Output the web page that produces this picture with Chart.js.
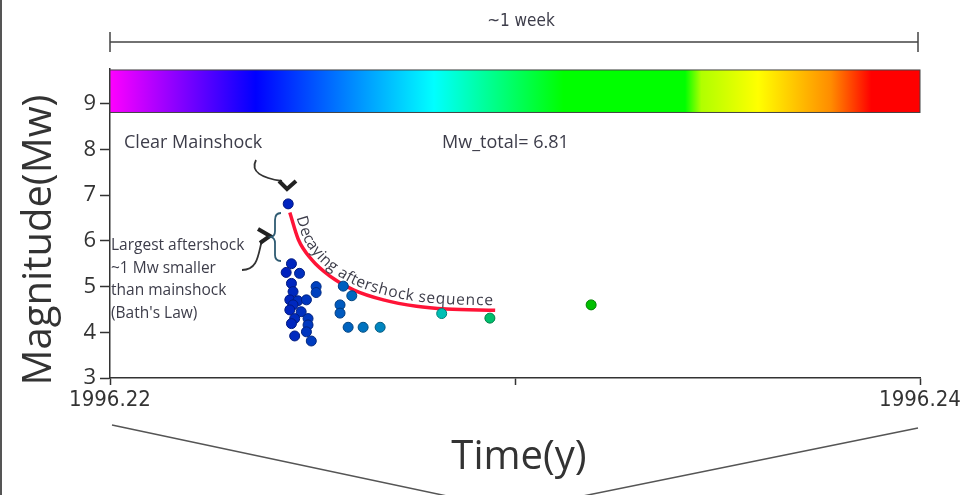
<!DOCTYPE html>
<html>
<head>
<meta charset="utf-8">
<script src="https://cdn.jsdelivr.net/npm/chart.js@4.4.0/dist/chart.umd.min.js"></script>
<style>
  html, body { margin: 0; padding: 0; background: #fff; }
  #wrap { width: 965px; height: 495px; position: relative; }
</style>
</head>
<body>
<div id="wrap"><canvas id="quakeChart" width="965" height="495"></canvas></div>
<script>
// Event times (decimal year) and magnitudes
const eventYears = [
    1996.22440,
    1996.22448, 1996.22435, 1996.22468, 1996.22448, 1996.22509, 1996.22452,
    1996.22509, 1996.22444, 1996.22464, 1996.22485, 1996.22452, 1996.22444,
    1996.22472, 1996.22489, 1996.22456, 1996.22448, 1996.22489, 1996.22485,
    1996.22456, 1996.22497,
    1996.22576, 1996.22597, 1996.22568, 1996.22568, 1996.22588, 1996.22625,
    1996.22667, 1996.22819, 1996.22938, 1996.23188
];
const eventMags = [
    6.81,
    5.50, 5.31, 5.29, 5.07, 5.00, 4.89,
    4.87, 4.71, 4.69, 4.71, 4.60, 4.49,
    4.45, 4.30, 4.30, 4.19, 4.16, 4.01,
    3.92, 3.81,
    5.01, 4.80, 4.60, 4.42, 4.11, 4.11,
    4.11, 4.41, 4.31, 4.60
];

// Hand-drawn decay curve
const decayYears = [1996.22444, 1996.22465, 1996.22498, 1996.22543, 1996.22601, 1996.22675, 1996.22757, 1996.22831, 1996.22951];
const decayMags = [6.62, 6.03, 5.59, 5.23, 4.93, 4.71, 4.57, 4.51, 4.48];

// Axes
const xTicks = [1996.22, 1996.23, 1996.24];
const xTickLabels = ['1996.22', '', '1996.24'];
const yTicks = [3, 4, 5, 6, 7, 8, 9];

// Time colour scale (fraction of the week -> colour)
const colorStops = [0, 0.09, 0.18, 0.40, 0.56, 0.71, 0.73, 0.80, 0.89, 0.94, 1];
const colorValues = ['#ff00ff', '#8000ff', '#0000ff', '#00ffff', '#00ff00', '#00ff00', '#b0ff00', '#ffff00', '#ff8c00', '#ff0000', '#ff0000'];

const X_MIN = 1996.22, X_MAX = 1996.24;
const Y_MIN = 3, Y_MAX = 9.77;

function hexToRgb(h) {
    return [parseInt(h.slice(1, 3), 16), parseInt(h.slice(3, 5), 16), parseInt(h.slice(5, 7), 16)];
}

function timeColor(year, shade) {
    const t = Math.min(1, Math.max(0, (year - X_MIN) / (X_MAX - X_MIN)));
    let i = 0;
    while (i < colorStops.length - 2 && t > colorStops[i + 1]) i++;
    const f = (t - colorStops[i]) / (colorStops[i + 1] - colorStops[i]);
    const a = hexToRgb(colorValues[i]), b = hexToRgb(colorValues[i + 1]);
    const c = a.map((v, k) => Math.round((v + (b[k] - v) * f) * shade));
    return `rgb(${c[0]},${c[1]},${c[2]})`;
}

const textColor = '#3d3d4a';

// Sample the drawn (bezier) decay line into a dense polyline
function curvePolyline(meta) {
    const els = meta.data;
    const out = [{ x: els[0].x, y: els[0].y }];
    for (let i = 0; i < els.length - 1; i++) {
        const a = els[i], b = els[i + 1];
        const c1x = a.cp2x ?? a.x, c1y = a.cp2y ?? a.y;
        const c2x = b.cp1x ?? b.x, c2y = b.cp1y ?? b.y;
        for (let s = 1; s <= 12; s++) {
            const t = s / 12, u = 1 - t;
            out.push({
                x: u * u * u * a.x + 3 * u * u * t * c1x + 3 * u * t * t * c2x + t * t * t * b.x,
                y: u * u * u * a.y + 3 * u * u * t * c1y + 3 * u * t * t * c2y + t * t * t * b.y
            });
        }
    }
    return out;
}

// Extra drawing: colour bar, bracket, annotations, arrows, titles
const decorPlugin = {
    id: 'decor',
    beforeDatasetsDraw(chart) {
        const ctx = chart.ctx;
        const area = chart.chartArea;
        const y = chart.scales.y;
        const top = y.getPixelForValue(9.74);
        const bottom = y.getPixelForValue(8.81);

        // colour bar
        const grad = ctx.createLinearGradient(area.left, 0, area.right, 0);
        colorStops.forEach((s, i) => grad.addColorStop(s, colorValues[i]));
        ctx.save();
        ctx.fillStyle = grad;
        ctx.fillRect(area.left, top, area.right - area.left, bottom - top);
        ctx.strokeStyle = '#444';
        ctx.lineWidth = 1;
        ctx.strokeRect(area.left, top, area.right - area.left, bottom - top);
        ctx.restore();
    },
    afterDraw(chart) {
        const ctx = chart.ctx;
        const area = chart.chartArea;
        ctx.save();

        // page frame on the left
        ctx.fillStyle = '#555';
        ctx.fillRect(0, 0, 2, chart.height);

        // "~1 week" span
        ctx.strokeStyle = '#444';
        ctx.lineWidth = 1.5;
        ctx.beginPath();
        ctx.moveTo(area.left, 42); ctx.lineTo(area.right - 2, 42);
        ctx.moveTo(area.left, 32); ctx.lineTo(area.left, 52);
        ctx.moveTo(area.right - 2, 32); ctx.lineTo(area.right - 2, 52);
        ctx.stroke();
        ctx.fillStyle = textColor;
        ctx.font = '17px "DejaVu Sans Condensed", sans-serif';
        ctx.textAlign = 'center';
        ctx.textBaseline = 'middle';
        ctx.fillText('~1 week', 521, 22);

        // annotations
        ctx.font = '18px "Open Sans", sans-serif';
        ctx.textAlign = 'left';
        ctx.fillText('Clear Mainshock', 124, 143);
        ctx.fillText('Mw_total= 6.81', 442, 143);

        ctx.font = '15.5px "Open Sans", sans-serif';
        ['Largest aftershock', '~1 Mw smaller', 'than mainshock', '(Bath\'s Law)'].forEach((line, i) => {
            ctx.fillText(line, 111, 246 + i * 22.5);
        });

        // mainshock arrow
        ctx.strokeStyle = '#333';
        ctx.lineWidth = 1.8;
        ctx.beginPath();
        ctx.moveTo(256, 160);
        ctx.bezierCurveTo(250, 172, 262, 178, 282, 181);
        ctx.stroke();
        ctx.strokeStyle = '#222';
        ctx.lineWidth = 4;
        ctx.lineJoin = 'miter';
        ctx.beginPath();
        ctx.moveTo(279, 181); ctx.lineTo(287, 189); ctx.lineTo(296, 181);
        ctx.stroke();

        // Bath's law arrow
        ctx.strokeStyle = '#333';
        ctx.lineWidth = 1.8;
        ctx.beginPath();
        ctx.moveTo(242, 270);
        ctx.bezierCurveTo(258, 270, 258, 255, 262, 240);
        ctx.stroke();
        ctx.strokeStyle = '#222';
        ctx.lineWidth = 4;
        ctx.beginPath();
        ctx.moveTo(258, 229); ctx.lineTo(270, 236); ctx.lineTo(260, 243);
        ctx.stroke();

        // brace
        ctx.strokeStyle = '#2f5b72';
        ctx.lineWidth = 1.8;
        ctx.beginPath();
        ctx.moveTo(281, 213);
        ctx.quadraticCurveTo(275, 213, 275, 220);
        ctx.lineTo(275, 231);
        ctx.quadraticCurveTo(275, 236, 271, 237);
        ctx.quadraticCurveTo(275, 238, 275, 243);
        ctx.lineTo(275, 255);
        ctx.quadraticCurveTo(275, 261, 281, 261);
        ctx.stroke();

        // text along the decay curve
        const pts = curvePolyline(chart.getDatasetMeta(1));
        const cum = [0];
        for (let i = 1; i < pts.length; i++) {
            cum.push(cum[i - 1] + Math.hypot(pts[i].x - pts[i - 1].x, pts[i].y - pts[i - 1].y));
        }
        const total = cum[cum.length - 1];
        const label = 'Decaying aftershock sequence';
        ctx.font = '15.5px "Open Sans", sans-serif';
        ctx.fillStyle = textColor;
        ctx.textAlign = 'center';
        ctx.textBaseline = 'alphabetic';
        const natural = ctx.measureText(label).width;
        const start = 6;
        const k = (total - start - 2) / natural;
        let run = 0;
        for (const ch of label) {
            const w = ctx.measureText(ch).width;
            const s = start + (run + w / 2) * k;
            run += w;
            let j = 1;
            while (j < cum.length - 1 && cum[j] < s) j++;
            const f = (s - cum[j - 1]) / (cum[j] - cum[j - 1]);
            const a = pts[j - 1], b = pts[j];
            const px = a.x + (b.x - a.x) * f;
            const py = a.y + (b.y - a.y) * f;
            const ang = Math.atan2(b.y - a.y, b.x - a.x);
            const nx = Math.sin(ang), ny = -Math.cos(ang);
            ctx.save();
            ctx.translate(px + nx * 5, py + ny * 5);
            ctx.rotate(ang);
            ctx.fillText(ch, 0, 0);
            ctx.restore();
        }

        // zoom lines under the time axis
        ctx.strokeStyle = '#555';
        ctx.lineWidth = 1.5;
        ctx.beginPath();
        ctx.moveTo(112, 425); ctx.lineTo(447, 496);
        ctx.moveTo(918, 428); ctx.lineTo(583, 496);
        ctx.stroke();

        // axis titles
        ctx.fillStyle = '#333';
        ctx.font = '40px "Open Sans", sans-serif';
        ctx.textAlign = 'center';
        ctx.textBaseline = 'middle';
        ctx.fillText('Time(y)', 519, 458);
        ctx.save();
        ctx.translate(40, 240);
        ctx.rotate(-Math.PI / 2);
        ctx.fillText('Magnitude(Mw)', 0, 0);
        ctx.restore();

        ctx.restore();
    }
};

const eventPoints = eventYears.map((x, i) => ({ x: x, y: eventMags[i] }));
const decayPoints = decayYears.map((x, i) => ({ x: x, y: decayMags[i] }));

const ctx = document.getElementById('quakeChart').getContext('2d');
const chart = new Chart(ctx, {
    type: 'scatter',
    data: {
        datasets: [{
            label: 'Events',
            data: eventPoints,
            pointRadius: 5,
            pointBorderWidth: 1,
            backgroundColor: c => timeColor(c.raw ? c.raw.x : X_MIN, 0.75),
            borderColor: c => timeColor(c.raw ? c.raw.x : X_MIN, 0.5),
            order: 1
        }, {
            label: 'Decay',
            data: decayPoints,
            showLine: true,
            cubicInterpolationMode: 'monotone',
            borderColor: '#ff1437',
            borderWidth: 3.5,
            pointRadius: 0,
            order: 2
        }]
    },
    options: {
        responsive: false,
        animation: false,
        devicePixelRatio: 1,
        layout: { padding: { left: 0, top: 68.6, right: 45, bottom: 0 } },
        plugins: {
            legend: { display: false },
            tooltip: { enabled: false }
        },
        scales: {
            x: {
                type: 'linear',
                min: X_MIN,
                max: X_MAX,
                afterBuildTicks: s => { s.ticks = xTicks.map(v => ({ value: v })); },
                afterFit: s => { s.height = 117; },
                grid: { drawOnChartArea: false, tickLength: 7, color: '#333', tickWidth: 1.5 },
                border: { color: '#333', width: 1.5 },
                ticks: {
                    autoSkip: false,
                    maxRotation: 0,
                    padding: 2,
                    color: '#333',
                    font: { family: '"DejaVu Sans Condensed", sans-serif', size: 22 },
                    callback: (v, i) => xTickLabels[i]
                }
            },
            y: {
                min: Y_MIN,
                max: Y_MAX,
                afterBuildTicks: s => { s.ticks = yTicks.map(v => ({ value: v })); },
                afterFit: s => { s.width = 110; },
                grid: { drawOnChartArea: false, tickLength: 10, color: '#333', tickWidth: 1.5 },
                border: { color: '#333', width: 1.5 },
                ticks: {
                    padding: 4,
                    color: '#333',
                    font: { family: '"Open Sans", sans-serif', size: 22 }
                }
            }
        }
    },
    plugins: [decorPlugin]
});
</script>
</body>
</html>
